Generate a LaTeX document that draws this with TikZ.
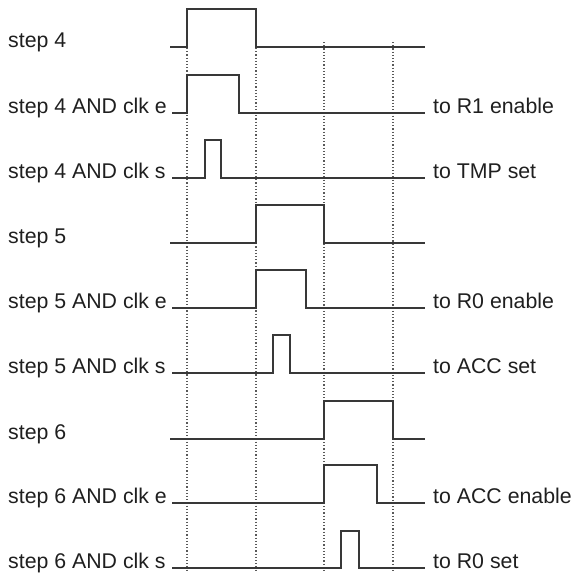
\documentclass[tikz,border=0pt]{standalone}
\usepackage{fontspec}
\setmainfont{Liberation Sans}
\begin{document}
\begin{tikzpicture}[x=1pt,y=-1pt,
  sig/.style={draw=black!78,line width=2.2pt,line join=miter},
  guide/.style={draw=black!65,line width=1.2pt,dash pattern=on 1.2pt off 2pt},
  lbl/.style={inner sep=0pt,font=\fontsize{21.3}{24}\selectfont,text=black!88},
  llbl/.style={lbl,anchor=base west},
  rlbl/.style={lbl,anchor=base west}]
\useasboundingbox (0,0) rectangle (573,573);
% dotted guides
\coordinate (g1t) at (187,48); \coordinate (g1b) at (187,573);
\coordinate (g2t) at (256,48); \coordinate (g2b) at (256,573);
\coordinate (g3t) at (324,42); \coordinate (g3b) at (324,573);
\coordinate (g4t) at (393,42); \coordinate (g4b) at (393,573);
\draw[guide] (g1t) -- (g1b);
\draw[guide] (g2t) -- (g2b);
\draw[guide] (g3t) -- (g3b);
\draw[guide] (g4t) -- (g4b);
% signals
\draw[sig] (170,47) -- (187,47) -- (187,9) -- (256,9) -- (256,47) -- (425,47);
\draw[sig] (172,113) -- (187,113) -- (187,75) -- (239,75) -- (239,113) -- (425,113);
\draw[sig] (172,178) -- (205,178) -- (205,140) -- (221,140) -- (221,178) -- (425,178);
\draw[sig] (170,243) -- (256,243) -- (256,205) -- (324,205) -- (324,243) -- (425,243);
\draw[sig] (172,308) -- (256,308) -- (256,270) -- (306,270) -- (306,308) -- (425,308);
\draw[sig] (172,373) -- (273,373) -- (273,335) -- (290,335) -- (290,373) -- (425,373);
\draw[sig] (170,439) -- (324,439) -- (324,401) -- (393,401) -- (393,439) -- (425,439);
\draw[sig] (172,503) -- (324,503) -- (324,465) -- (377,465) -- (377,503) -- (425,503);
\draw[sig] (172,568) -- (341,568) -- (341,531) -- (359,531) -- (359,568) -- (425,568);
% left labels
\node[llbl] (l1) at (8,47) {step 4};
\node[llbl] (l2) at (8,113) {step 4 AND clk e};
\node[llbl] (l3) at (8,178) {step 4 AND clk s};
\node[llbl] (l4) at (8,243) {step 5};
\node[llbl] (l5) at (8,308) {step 5 AND clk e};
\node[llbl] (l6) at (8,373) {step 5 AND clk s};
\node[llbl] (l7) at (8,439) {step 6};
\node[llbl] (l8) at (8,503) {step 6 AND clk e};
\node[llbl] (l9) at (8,568) {step 6 AND clk s};
% right labels
\node[rlbl] (r2) at (433,113) {to R1 enable};
\node[rlbl] (r3) at (433,178) {to TMP set};
\node[rlbl] (r5) at (433,308) {to R0 enable};
\node[rlbl] (r6) at (433,373) {to ACC set};
\node[rlbl] (r8) at (433,503) {to ACC enable};
\node[rlbl] (r9) at (433,568) {to R0 set};
\end{tikzpicture}
\end{document}
